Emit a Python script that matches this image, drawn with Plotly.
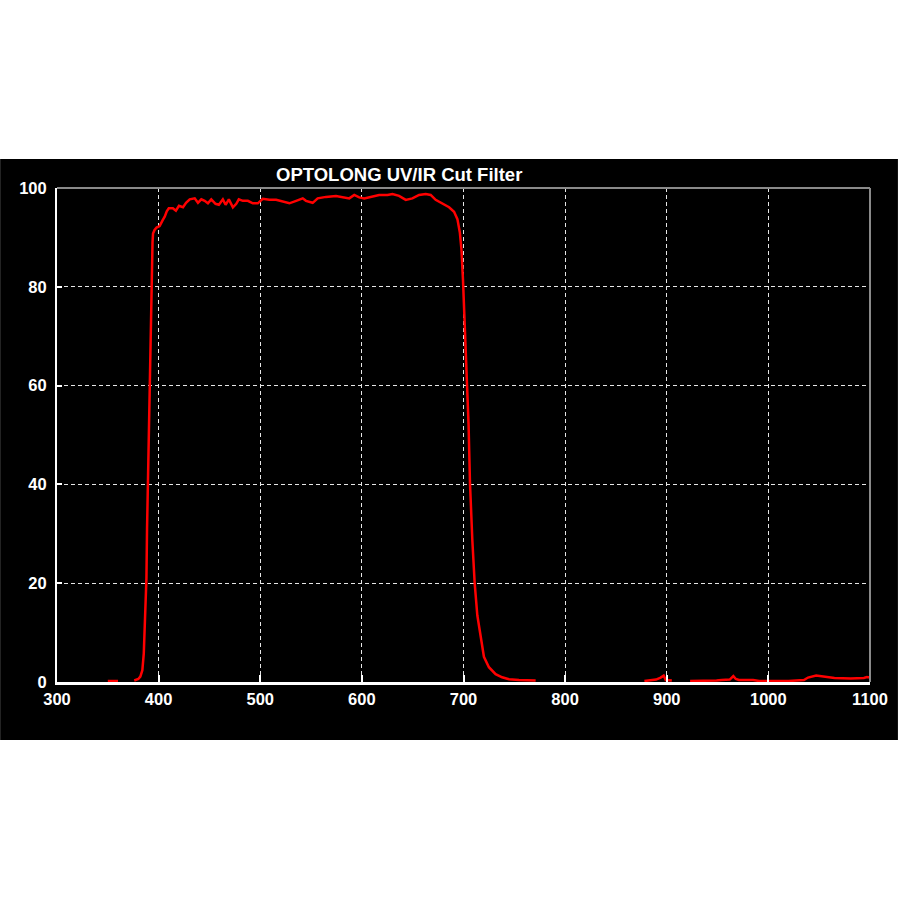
import plotly.graph_objects as go

# Main transmission curve (wavelength nm, transmission %)
wl_main = [350, 360, None,
           376, 380, 382, 384, 385.4, 386.4, 387.5, 388, 388.6, 390, 391.3, 392, 392.9, 394, 394.5,
           396, 398, 401, 404, 406, 408, 410, 414, 417, 420, 424, 427, 430.6, 435.5, 438.7,
           442, 445.3, 448.5, 451.8, 456, 459.3, 463.2, 465.9, 469.1, 473.1, 476.4, 478.9,
           482.9, 487.8, 492.7, 497.6, 502.5, 509, 515.6, 522, 528.7, 535.3, 541.8, 545,
           551.6, 556.5, 564.7, 574.5, 581, 587.6, 592.5, 597.4, 602.3, 608.8, 617, 625.2,
           630.1, 636.6, 643.2, 649.7, 656.3, 662.8, 667.7, 672.6, 679.1, 685.8, 690.7, 694,
           696.4, 698, 699.5, 700.8, 702.2, 703.5, 705, 706.4, 708.7, 711, 713.6, 716.9,
           720.1, 725, 731.6, 738, 744.7, 754.5, 771]
tr_main = [0.2, 0.2, None,
           0.3, 0.6, 1.1, 2.4, 5.8, 12.6, 17, 21, 31, 46, 60, 73, 83, 89, 90.8,
           91.5, 92, 92.3, 93.5, 94.2, 95.3, 95.9, 95.9, 95.4, 96.4, 96.1, 97, 97.7, 97.9, 97.0,
           97.7, 97.4, 96.9, 97.7, 96.8, 96.6, 97.7, 96.6, 97.7, 96.1, 96.8, 97.7,
           97.4, 97.4, 96.9, 96.9, 97.8, 97.6, 97.6, 97.2, 96.9, 97.4, 97.9, 97.4,
           97.0, 97.9, 98.2, 98.4, 98.2, 97.9, 98.6, 98.1, 97.9, 98.2, 98.6, 98.6,
           98.8, 98.4, 97.6, 97.9, 98.6, 98.8, 98.6, 97.6, 96.8, 96.1, 95.2, 93.7,
           91, 87.5, 81.4, 73.3, 67.2, 60, 52, 40.2, 28.7, 20, 13.5, 9.2,
           5.1, 3.0, 1.6, 0.95, 0.55, 0.4, 0.3]

# Near-infrared noise segment
wl_ir = [878, 884, 889.5, 894, 897, 899, 905, None, 923, 931, 936, 949, 954, 962, 965.5, 968,
         971, 985, 991, 999, 1004, 1020, 1035, 1039, 1047, 1055, 1065, 1081, 1094, 1097, 1100]
tr_ir = [0.2, 0.3, 0.5, 0.9, 1.3, 0.4, 0.3, None, 0.2, 0.2, 0.3, 0.3, 0.4, 0.5, 1.2, 0.6,
         0.4, 0.4, 0.2, 0.2, 0.2, 0.2, 0.4, 0.9, 1.3, 1.1, 0.8, 0.7, 0.8, 1.0, 0.9]

x_ticks = [300, 400, 500, 600, 700, 800, 900, 1000, 1100]
y_ticks = [0, 20, 40, 60, 80, 100]
title_text = "OPTOLONG UV/IR Cut Filter"

FONT = "Arial, Liberation Sans, sans-serif"

fig = go.Figure()
line_style = dict(color="#ff0000", width=2.5)
fig.add_trace(go.Scatter(x=wl_main, y=tr_main, mode="lines", line=line_style,
                         connectgaps=False, showlegend=False, hoverinfo="skip"))
fig.add_trace(go.Scatter(x=wl_ir, y=tr_ir, mode="lines", line=line_style,
                         connectgaps=False, showlegend=False, hoverinfo="skip"))

L, R, T, B = 57, 28, 188, 218
pw, ph = 900 - L - R, 900 - T - B

def px_x(p):
    return (p - L) / pw

def px_y(p):
    return (900 - B - p) / ph

axis_common = dict(
    showgrid=True, gridcolor="#e6e6e6", gridwidth=1, griddash="4px,3px",
    zeroline=False, showline=True, linecolor="#ffffff",
    ticks="inside", tickcolor="#ffffff", tickwidth=2,
    tickfont=dict(family=FONT, size=16.5, color="#ffffff", weight="bold"),
    layer="above traces",
)

fig.update_layout(
    width=900, height=900,
    margin=dict(l=L, r=R, t=T, b=B, pad=0),
    paper_bgcolor="#ffffff", plot_bgcolor="#000000",
    xaxis=dict(range=[300, 1100], tickvals=x_ticks, ticktext=[str(v) for v in x_ticks],
               linewidth=3, ticklen=7, ticklabelstandoff=0, **axis_common),
    yaxis=dict(range=[0, 100], tickvals=y_ticks, ticktext=[str(v) for v in y_ticks],
               linewidth=2, ticklen=5, ticklabelstandoff=5, **axis_common),
    shapes=[
        dict(type="rect", xref="paper", yref="paper",
             x0=px_x(0), x1=px_x(900), y0=px_y(740), y1=px_y(159),
             fillcolor="#000000", line=dict(width=0), layer="below"),
        dict(type="line", xref="paper", yref="paper", x0=0, x1=1, y0=1, y1=1,
             line=dict(color="#8a8a8a", width=2), layer="above"),
        dict(type="line", xref="paper", yref="paper", x0=1, x1=1, y0=0, y1=1,
             line=dict(color="#8a8a8a", width=2), layer="above"),
    ],
    annotations=[
        dict(text=title_text, xref="paper", yref="paper", x=px_x(400), y=px_y(174),
             xanchor="center", yanchor="middle", showarrow=False,
             font=dict(family=FONT, size=18.5, color="#ffffff", weight="bold")),
    ],
)

fig.write_html(
    "out.html",
    config={"displayModeBar": False},
    post_script="document.body.style.margin='0';document.body.style.padding='0';"
                "document.body.style.overflow='hidden';",
)
